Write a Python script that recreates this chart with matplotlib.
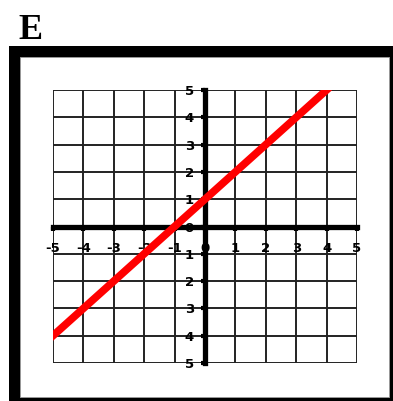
import matplotlib
matplotlib.use("Agg")
import matplotlib.pyplot as plt
from matplotlib.patches import Rectangle

# Data
panel_letter = "E"
tick_values = [-5, -4, -3, -2, -1, 0, 1, 2, 3, 4, 5]
x_tick_labels = ["-5", "-4", "-3", "-2", "-1", "0", "1", "2", "3", "4", "5"]
y_tick_labels = ["5", "4", "3", "2", "1", "0", "1", "2", "3", "4", "5"]
line_x = [-5, 4]
line_y = [-4, 5]

W, H = 393, 401
fig = plt.figure(figsize=(W / 100, H / 100), dpi=100)
fig.patch.set_facecolor("white")


def px_rect(x0, y0, x1, y1, **kw):
    """Rectangle given in picture pixels (origin top-left)."""
    return Rectangle((x0 / W, 1 - y1 / H), (x1 - x0) / W, (y1 - y0) / H,
                     transform=fig.transFigure, clip_on=False, **kw)


# heavy outer frame (cut off at the right and bottom edges)
fig.add_artist(px_rect(9, 46, W + 10, H + 10, facecolor="black",
                       edgecolor="none", zorder=0))
fig.add_artist(px_rect(20, 57, 389, 397, facecolor="white",
                       edgecolor="#999999", linewidth=0.7, zorder=0.5))

# axes placed so that -5..5 spans the grid box of the picture
ax = fig.add_axes([53 / W, 1 - 363 / H, 304 / W, 273 / H])
ax.set_zorder(2)
ax.set_facecolor("white")
ax.set_xlim(-5, 5)
ax.set_ylim(-5, 5)
ax.set_xticks(tick_values)
ax.set_yticks(tick_values)
ax.set_xticklabels(x_tick_labels)
ax.set_yticklabels(y_tick_labels)

ax.grid(True, color="#222222", linewidth=1.4)
for gl in ax.get_xgridlines() + ax.get_ygridlines():
    gl.set_clip_on(False)
ax.set_axisbelow(True)

# axes through the origin
for side in ("top", "right"):
    ax.spines[side].set_visible(False)
ax.spines["left"].set_position(("data", 0))
ax.spines["bottom"].set_position(("data", 0))
ax.spines["left"].set_linewidth(3.8)
ax.spines["bottom"].set_linewidth(3.8)
ax.tick_params(axis="x", direction="out", length=3, width=3, pad=8)
ax.tick_params(axis="y", direction="out", length=3, width=3, pad=5)
for lbl in ax.get_xticklabels() + ax.get_yticklabels():
    lbl.set_fontsize(9.5)
    lbl.set_fontweight("heavy")
    lbl.set_family("DejaVu Sans")

ax.plot(line_x, line_y, color="#ff0000", linewidth=5.5,
        solid_capstyle="projecting", zorder=5)

fig.text(18 / W, 1 - 39 / H, panel_letter, fontsize=26, fontweight="bold",
         family="Liberation Serif", va="baseline", ha="left")

fig.savefig("out.png", dpi=100)
